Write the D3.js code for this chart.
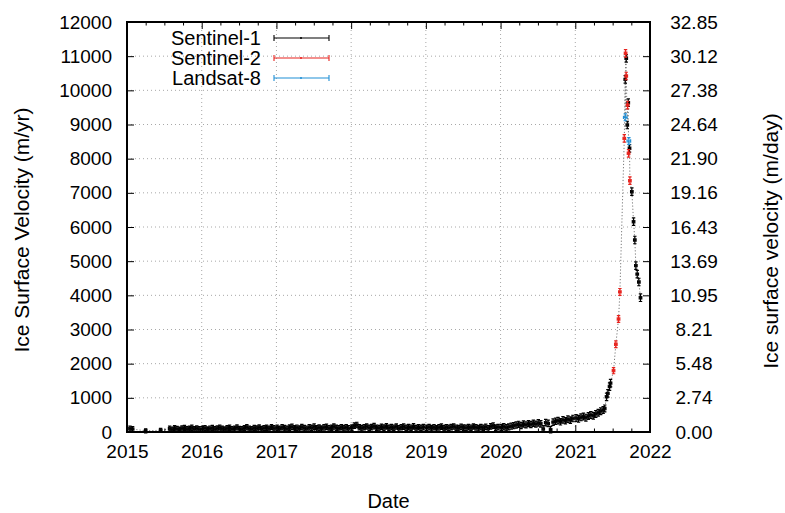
<!DOCTYPE html>
<html>
<head>
<meta charset="utf-8">
<script src="https://cdn.jsdelivr.net/npm/d3@7/dist/d3.min.js"></script>
<style>
  body { margin: 0; background: #fff; }
  text { font-family: "Liberation Sans", Arial, Helvetica, sans-serif; fill: #000; }
</style>
</head>
<body>
<svg id="chart" width="785" height="513"></svg>
<script>
// ---- axis ticks ----
const yearTicks = [2015, 2016, 2017, 2018, 2019, 2020, 2021, 2022];
const quarterTicks = [];
yearTicks.slice(0, -1).forEach(y => [0.25, 0.5, 0.75].forEach(q => quarterTicks.push(y + q)));
const velTicks = [0, 1000, 2000, 3000, 4000, 5000, 6000, 7000, 8000, 9000, 10000, 11000, 12000];
const dayTickLabels = ["0.00", "2.74", "5.48", "8.21", "10.95", "13.69", "16.43",
                       "19.16", "21.90", "24.64", "27.38", "30.12", "32.85"];

// ---- Sentinel-1 (decimal year, velocity m/yr, velocity uncertainty m/yr) ----
const s1Dates = [
  2015.040, 2015.075, 2015.250, 2015.450,
  2015.571, 2015.604, 2015.637, 2015.670, 2015.703, 2015.736, 2015.769, 2015.802, 2015.835, 2015.868, 2015.901, 2015.934, 2015.967,
  2016.010, 2016.043, 2016.076, 2016.109, 2016.142, 2016.175, 2016.208, 2016.241, 2016.274, 2016.307, 2016.340, 2016.373, 2016.406, 2016.439, 2016.472,
  2016.505, 2016.538, 2016.571, 2016.604, 2016.637, 2016.670, 2016.703, 2016.736, 2016.769, 2016.802, 2016.835, 2016.868, 2016.901, 2016.934, 2016.967,
  2017.010, 2017.043, 2017.076, 2017.109, 2017.142, 2017.175, 2017.208, 2017.241, 2017.274, 2017.307, 2017.340, 2017.373, 2017.406, 2017.439, 2017.472,
  2017.505, 2017.538, 2017.571, 2017.604, 2017.637, 2017.670, 2017.703, 2017.736, 2017.769, 2017.802, 2017.835, 2017.868, 2017.901, 2017.934, 2017.967,
  2018.010, 2018.043, 2018.076, 2018.109, 2018.142, 2018.175, 2018.208, 2018.241, 2018.274, 2018.307, 2018.340, 2018.373, 2018.406, 2018.439, 2018.472,
  2018.505, 2018.538, 2018.571, 2018.604, 2018.637, 2018.670, 2018.703, 2018.736, 2018.769, 2018.802, 2018.835, 2018.868, 2018.901, 2018.934, 2018.967,
  2019.010, 2019.043, 2019.076, 2019.109, 2019.142, 2019.175, 2019.208, 2019.241, 2019.274, 2019.307, 2019.340, 2019.373, 2019.406, 2019.439, 2019.472,
  2019.505, 2019.538, 2019.571, 2019.604, 2019.637, 2019.670, 2019.703, 2019.736, 2019.769, 2019.802, 2019.835, 2019.868, 2019.901, 2019.934, 2019.967,
  2020.010, 2020.043, 2020.076, 2020.109, 2020.142, 2020.175, 2020.208, 2020.241, 2020.274, 2020.307, 2020.340, 2020.373, 2020.406, 2020.439, 2020.472,
  2020.505, 2020.538, 2020.571, 2020.604, 2020.637, 2020.670, 2020.703, 2020.736, 2020.769, 2020.802, 2020.835, 2020.868, 2020.901, 2020.934, 2020.967,
  2021.010, 2021.043, 2021.076, 2021.109, 2021.142, 2021.175, 2021.208, 2021.241, 2021.274, 2021.307, 2021.340, 2021.373, 2021.394,
  2021.419, 2021.436, 2021.459, 2021.472,
  2021.669, 2021.682, 2021.696, 2021.709, 2021.726, 2021.757, 2021.780, 2021.797, 2021.811, 2021.829, 2021.851, 2021.873
];
const s1Vel = [
  100, 85, 35, 50,
  95, 70, 110, 90, 65, 105, 120, 80, 95, 125, 85, 105, 80,
  90, 115, 75, 100, 120, 80, 105, 130, 95, 75, 110, 125, 85, 100, 135,
  90, 80, 115, 140, 100, 85, 120, 105, 135, 90, 115, 125, 95, 145, 110,
  125, 95, 140, 115, 90, 130, 150, 105, 125, 100, 145, 115, 95, 135, 120,
  155, 105, 130, 100, 135, 150, 110, 125, 160, 120, 105, 140, 115, 135, 110,
  130, 185, 205, 140, 115, 140, 160, 120, 145, 170, 125, 115, 150, 130, 165,
  120, 145, 125, 160, 110, 140, 155, 120, 145, 125, 165, 115, 140, 120, 145,
  120, 145, 115, 140, 105, 135, 155, 115, 140, 120, 145, 160, 125, 115, 150,
  130, 120, 145, 125, 160, 135, 115, 145, 125, 150, 110, 165, 185, 130, 145,
  135, 155, 125, 150, 170, 185, 205, 225, 190, 235, 210, 245, 220, 255, 230,
  265, 240, 90, 275, 250, 70, 290, 315, 335, 300, 355, 330, 375, 350, 395,
  410, 385, 430, 455, 420, 470, 500, 475, 530, 565, 610, 645, 690,
  1030, 1130, 1330, 1430,
  10322, 10937, 8985, 9638, 8303, 7033, 6155, 5620, 4870, 4620, 4390, 3930
];
const s1VelErr = [
  70, 70, 60, 60,
  75, 75, 75, 75, 75, 75, 75, 75, 75, 75, 75, 75, 75,
  75, 75, 75, 75, 75, 75, 75, 75, 75, 75, 75, 75, 75, 75, 75,
  75, 75, 75, 75, 75, 75, 75, 75, 75, 75, 75, 75, 75, 75, 75,
  80, 80, 80, 80, 80, 80, 80, 80, 80, 80, 80, 80, 80, 80, 80,
  80, 80, 80, 80, 80, 80, 80, 80, 80, 80, 80, 80, 80, 80, 80,
  80, 80, 80, 80, 80, 80, 80, 80, 80, 80, 80, 80, 80, 80, 80,
  80, 80, 80, 80, 80, 80, 80, 80, 80, 80, 80, 80, 80, 80, 80,
  80, 80, 80, 80, 80, 80, 80, 80, 80, 80, 80, 80, 80, 80, 80,
  80, 80, 80, 80, 80, 80, 80, 80, 80, 80, 80, 80, 80, 80, 80,
  90, 90, 90, 90, 90, 90, 90, 90, 90, 90, 90, 90, 90, 90, 90,
  95, 95, 95, 95, 95, 95, 95, 95, 95, 95, 95, 95, 95, 95, 95,
  100, 100, 100, 100, 100, 100, 100, 100, 100, 100, 100, 100, 100,
  110, 110, 110, 110,
  110, 110, 110, 110, 110, 110, 110, 110, 110, 110, 110, 110
];

// ---- Sentinel-2 ----
const s2Dates = [2021.512, 2021.543, 2021.579, 2021.597, 2021.656, 2021.673, 2021.682, 2021.700, 2021.713, 2021.731];
const s2Vel   = [1795, 2567, 3307, 4100, 8595, 11084, 10420, 9570, 8157, 7355];
const s2VelErr = [90, 100, 100, 100, 110, 110, 110, 110, 110, 110];

// ---- Landsat-8 ----
const l8Dates = [2021.669, 2021.717];
const l8Vel   = [9210, 8517];
const l8VelErr = [100, 100];

const seriesInfo = [
  { name: "Sentinel-1", color: "#000000", dates: s1Dates, vel: s1Vel, vErr: s1VelErr, dErr: 0.017 },
  { name: "Sentinel-2", color: "#e8231e", dates: s2Dates, vel: s2Vel, vErr: s2VelErr, dErr: 0.017 },
  { name: "Landsat-8",  color: "#1f8fd6", dates: l8Dates, vel: l8Vel, vErr: l8VelErr, dErr: 0.024 }
];

const M = { left: 127, right: 650, top: 22, bottom: 432 };
const svg = d3.select("#chart");

const x = d3.scaleLinear().domain([2015, 2022]).range([M.left, M.right]);
const y = d3.scaleLinear().domain([0, 12000]).range([M.bottom, M.top]);

const FS_TICK = 19, FS_LEG = 20, FS_TITLE = 21;

// grid
const grid = svg.append("g").attr("stroke", "#a8a8a8").attr("stroke-width", 1).attr("stroke-dasharray", "1,3");
yearTicks.slice(1, -1).forEach(t => grid.append("line")
  .attr("x1", x(t)).attr("x2", x(t)).attr("y1", M.top).attr("y2", M.bottom));
velTicks.slice(1, -1).forEach(v => grid.append("line")
  .attr("x1", M.left).attr("x2", M.right).attr("y1", y(v)).attr("y2", y(v)));

// dotted line through every observation in time order
const allPts = [];
seriesInfo.forEach(s => s.dates.forEach((d, i) => allPts.push([d, s.vel[i]])));
allPts.sort((a, b) => a[0] - b[0]);
svg.append("path")
  .attr("d", d3.line().x(d => x(d[0])).y(d => y(d[1]))(allPts))
  .attr("fill", "none").attr("stroke", "#7a7a7a").attr("stroke-width", 1)
  .attr("stroke-dasharray", "1.2,2");

// xy error bars
function errorBars(g, s) {
  const cap = 1.7;
  s.dates.forEach((d, i) => {
    const cx = x(d), cy = y(s.vel[i]);
    const x0 = x(d - s.dErr), x1 = x(d + s.dErr);
    const y0 = y(s.vel[i] - s.vErr[i]), y1 = y(s.vel[i] + s.vErr[i]);
    const p = `M${x0},${cy}H${x1}M${x0},${cy - cap}V${cy + cap}M${x1},${cy - cap}V${cy + cap}` +
              `M${cx},${y0}V${y1}M${cx - cap},${y0}H${cx + cap}M${cx - cap},${y1}H${cx + cap}`;
    g.append("path").attr("d", p);
  });
}
seriesInfo.forEach(s => {
  const g = svg.append("g").attr("stroke", s.color).attr("stroke-width", 1.2).attr("fill", "none");
  errorBars(g, s);
});

// axes
function styleAxis(g) {
  g.select(".domain").remove();
  g.selectAll("line").attr("stroke", "#000").attr("stroke-width", 1);
  g.selectAll("text").attr("font-size", FS_TICK).style("font-family", '"Liberation Sans", Arial, sans-serif');
}
const TK = 7, TKm = 3.5;
svg.append("g").attr("transform", `translate(0,${M.bottom})`)
  .call(d3.axisBottom(x).tickValues(yearTicks).tickFormat(d3.format("d")).tickSize(-TK).tickPadding(13))
  .call(styleAxis);
svg.append("g").attr("transform", `translate(0,${M.bottom})`)
  .call(d3.axisBottom(x).tickValues(quarterTicks).tickFormat("").tickSize(-TKm))
  .call(styleAxis);
svg.append("g").attr("transform", `translate(0,${M.top})`)
  .call(d3.axisTop(x).tickValues(yearTicks).tickFormat("").tickSize(-TK))
  .call(styleAxis);
svg.append("g").attr("transform", `translate(0,${M.top})`)
  .call(d3.axisTop(x).tickValues(quarterTicks).tickFormat("").tickSize(-TKm))
  .call(styleAxis);
svg.append("g").attr("transform", `translate(${M.left},0)`)
  .call(d3.axisLeft(y).tickValues(velTicks).tickFormat(d3.format("d")).tickSize(-TK).tickPadding(15))
  .call(styleAxis);
const right = svg.append("g").attr("transform", `translate(${M.right},0)`)
  .call(d3.axisRight(y).tickValues(velTicks).tickFormat((d, i) => dayTickLabels[i]).tickSize(-TK).tickPadding(44))
  .call(styleAxis);
right.selectAll("text").attr("text-anchor", "middle");

// frame
svg.append("rect").attr("x", M.left).attr("y", M.top)
  .attr("width", M.right - M.left).attr("height", M.bottom - M.top)
  .attr("fill", "none").attr("stroke", "#000").attr("stroke-width", 2);

// titles
svg.append("text").attr("transform", `translate(22,230) rotate(-90)`)
  .attr("text-anchor", "middle").attr("dy", "0.35em").attr("font-size", FS_TITLE)
  .text("Ice Surface Velocity (m/yr)");
svg.append("text").attr("transform", `translate(772,241) rotate(-90)`)
  .attr("text-anchor", "middle").attr("dy", "0.3em").attr("font-size", FS_TITLE)
  .text("Ice surface velocity (m/day)");
svg.append("text").attr("x", (M.left + M.right) / 2).attr("y", 508)
  .attr("text-anchor", "middle").attr("font-size", FS_LEG)
  .text("Date");

// legend
const legRows = [38, 58, 78];
seriesInfo.forEach((s, i) => {
  const ly = legRows[i];
  svg.append("text").attr("x", 261).attr("y", ly).attr("dy", "0.35em")
    .attr("text-anchor", "end").attr("font-size", FS_LEG).text(s.name);
  const g = svg.append("g").attr("stroke", s.color).attr("stroke-width", 1.1).attr("fill", "none");
  g.append("path").attr("d", `M274,${ly}H329M274,${ly - 3}V${ly + 3}M329,${ly - 3}V${ly + 3}`);
  g.append("path").attr("d", `M301,${ly - 0.8}V${ly + 0.8}`).attr("stroke-width", 2);
});
</script>
</body>
</html>
